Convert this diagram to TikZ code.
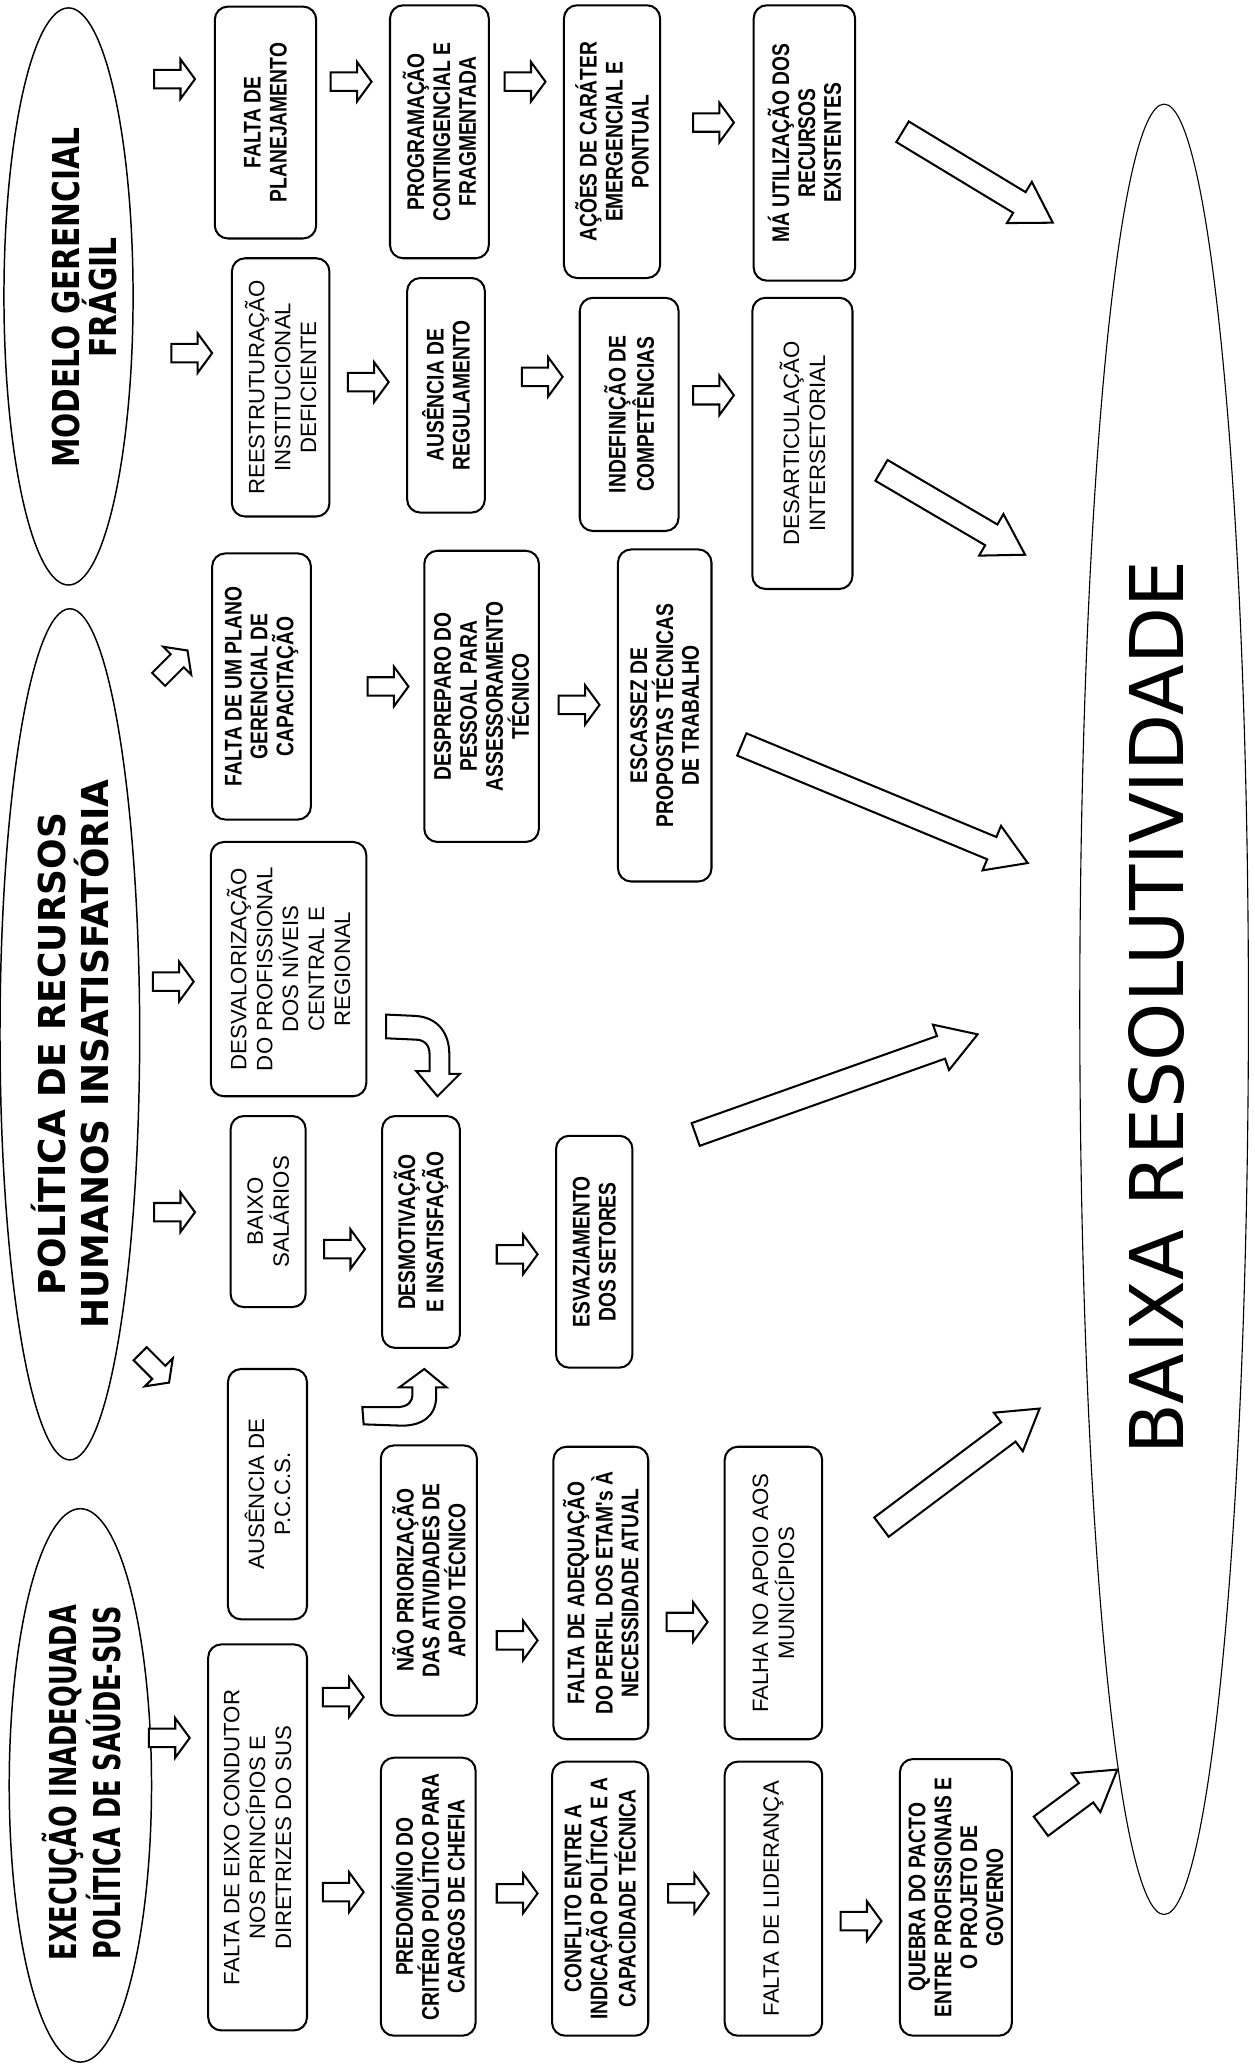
\documentclass[tikz,border=0pt]{standalone}
\usepackage{fontspec}
\setmainfont{Liberation Sans}
\newfontfamily\boxbold[FakeStretch=0.8]{Liberation Sans}
\newfontfamily\ttlmod[FakeStretch=0.8]{DejaVu Sans}
\newfontfamily\ttlpol[FakeStretch=0.97]{DejaVu Sans}
\newfontfamily\ttlexe[FakeStretch=0.69]{DejaVu Sans}
\newfontfamily\bigfont{DejaVu Sans}
\usetikzlibrary{calc}

\tikzset{
  box/.style={draw, line width=1.1pt, rounded corners=2.5mm, rotate=90, align=center, inner sep=1pt},
  boxr/.style={box, font=\fontsize{12}{14}\selectfont},
  boxb/.style={box, font=\boxbold\bfseries\fontsize{13}{14}\selectfont},
  ttl/.style={rotate=90, align=center},
  oval/.style={line width=0.8pt},
  arrline/.style={draw, fill=white, line width=1.1pt, line join=miter},
  pics/blk/.style={code={\path[arrline] (-15,-7) -- (5,-7) -- (5,-15) -- (16,0) -- (5,15) -- (5,7) -- (-15,7) -- cycle;}},
  fat/.style={arrline, to path={let \p1=(\tikztostart), \p2=(\tikztotarget),
    \n1={atan2(\y2-\y1,\x2-\x1)}, \n2={veclen(\x2-\x1,\y2-\y1)-21} in
    ($(\p1)+(\n1+90:6.5pt)$) -- ++(\n1:\n2) -- ++(\n1+90:6.5pt) -- (\p2)
    -- ($(\p1)+(\n1:\n2)+(\n1-90:13pt)$) -- ++(\n1+90:6.5pt)
    -- ($(\p1)+(\n1-90:6.5pt)$) -- cycle}}
}

\begin{document}
\begin{tikzpicture}[x=0.25mm, y=-0.25mm]
    \useasboundingbox (0,0) rectangle (952,1568);
    % elipses
    \draw[oval] (52,225) ellipse [x radius=49, y radius=219];
    \draw[oval] (53,785) ellipse [x radius=53, y radius=323];
    \draw[oval] (61,1355) ellipse [x radius=54, y radius=210];
    \draw[oval, line width=0.6pt] (883.5,766) ellipse [x radius=64, y radius=687];
    \node[ttl, font=\ttlmod\bfseries\fontsize{20}{16}\selectfont] (mod) at (64,226) {MODELO GERENCIAL\\FRÁGIL};
    \node[ttl, font=\ttlpol\bfseries\fontsize{20}{23}\selectfont] (pol) at (53,800) {POLÍTICA DE RECURSOS\\HUMANOS INSATISFATÓRIA};
    \node[ttl, font=\ttlexe\bfseries\fontsize{20}{20}\selectfont] (exe) at (62,1353) {EXECUÇÃO INADEQUADA\\POLÍTICA DE SAÚDE-SUS};
    \node[rotate=90, font=\bigfont\fontsize{40}{40}\selectfont] (res) at (878,765) {BAIXA RESOLUTIVIDADE};
    % coluna 1
    \node[boxb, minimum width=44mm, minimum height=19.25mm] (a1) at (201.5,93) {FALTA DE\\PLANEJAMENTO};
    \node[boxr, minimum width=49mm, minimum height=18.5mm] (a2) at (213,294) {REESTRUTURAÇÃO\\INSTITUCIONAL\\DEFICIENTE};
    \node[boxb, minimum width=50.5mm, minimum height=18.75mm] (a3) at (198.5,521) {FALTA DE UM PLANO\\GERENCIAL DE\\CAPACITAÇÃO};
    \node[boxr, minimum width=48.25mm, minimum height=29.5mm] (a4) at (219,735.5) {DESVALORIZAÇÃO\\DO PROFISSIONAL\\DOS NÍVEIS\\CENTRAL E\\REGIONAL};
    \node[boxr, minimum width=36.25mm, minimum height=14.25mm] (a5) at (203.5,919.5) {BAIXO\\SALÁRIOS};
    \node[boxr, minimum width=47.5mm, minimum height=15mm] (a6) at (203,1134) {AUSÊNCIA DE\\P.C.C.S.};
    \node[boxr, minimum width=73.25mm, minimum height=18.75mm] (a7) at (195.5,1394.5) {FALTA DE EIXO CONDUTOR\\NOS PRINCÍPIOS E\\DIRETRIZES DO SUS};
    % coluna 2
    \node[boxb, minimum width=48mm, minimum height=18.75mm] (b1) at (333.5,100) {PROGRAMAÇÃO\\CONTINGENCIAL E\\FRAGMENTADA};
    \node[boxb, minimum width=44.5mm, minimum height=14.75mm] (b2) at (338.5,300) {AUSÊNCIA DE\\REGULAMENTO};
    \node[boxb, minimum width=55.25mm, minimum height=21.75mm] (b3) at (365.5,528.5) {DESPREPARO DO\\PESSOAL PARA\\ASSESSORAMENTO\\TÉCNICO};
    \node[boxb, minimum width=44mm, minimum height=14.75mm] (b4) at (319.5,935) {DESMOTIVAÇÃO\\E INSATISFAÇÃO};
    \node[boxb, minimum width=51.25mm, minimum height=18.25mm] (b5) at (325.5,1199.5) {NÃO PRIORIZAÇÃO\\DAS ATIVIDADES DE\\APOIO TÉCNICO};
    \node[boxb, minimum width=52.75mm, minimum height=18mm] (b6) at (325,1439.5) {PREDOMÍNIO DO\\CRITÉRIO POLÍTICO PARA\\CARGOS DE CHEFIA};
    % coluna 3
    \node[boxb, minimum width=51.75mm, minimum height=18.25mm] (c1) at (464.5,107.5) {AÇÕES DE CARÁTER\\EMERGENCIAL E\\PONTUAL};
    \node[boxb, minimum width=44.25mm, minimum height=18.75mm] (c2) at (477.5,314.5) {INDEFINIÇÃO DE\\COMPETÊNCIAS};
    \node[boxb, minimum width=63mm, minimum height=17.75mm] (c3) at (504.5,543) {ESCASSEZ DE\\PROPOSTAS TÉCNICAS\\DE TRABALHO};
    \node[boxb, minimum width=44mm, minimum height=14.5mm] (c4) at (451,950) {ESVAZIAMENTO\\DOS SETORES};
    \node[boxb, minimum width=55.5mm, minimum height=18mm] (c5) at (456,1209) {FALTA DE ADEQUAÇÃO\\DO PERFIL DOS ETAM's À\\NECESSIDADE ATUAL};
    \node[boxb, minimum width=52mm, minimum height=18.25mm] (c6) at (455.5,1441) {CONFLITO ENTRE A\\INDICAÇÃO POLÍTICA E A\\CAPACIDADE TÉCNICA};
    % coluna 4 e 5
    \node[boxb, minimum width=52.25mm, minimum height=19.25mm] (d1) at (610.5,108.5) {MÁ UTILIZAÇÃO DOS\\RECURSOS\\EXISTENTES};
    \node[boxr, minimum width=55.25mm, minimum height=19mm] (d2) at (609,336.5) {DESARTICULAÇÃO\\INTERSETORIAL};
    \node[boxr, minimum width=55.5mm, minimum height=18.5mm] (d4) at (587,1209) {FALHA NO APOIO AOS\\MUNICÍPIOS};
    \node[boxr, minimum width=52mm, minimum height=18.5mm] (d3) at (587,1441) {FALTA DE LIDERANÇA};
    \node[boxb, minimum width=52.5mm, minimum height=21.25mm] (e1) at (725.5,1440) {QUEBRA DO PACTO\\ENTRE PROFISSIONAIS E\\O PROJETO DE\\GOVERNO};
    % setas pequenas
    \pic (ar1) at (132,60) {blk};
    \pic (ar2) at (145,268) {blk};
    \pic[rotate=45] (ar3) at (131,505) {blk};
    \pic (ar4) at (131,745) {blk};
    \pic (ar5) at (132,920) {blk};
    \pic[rotate=-45] (ar6) at (117,1038) {blk};
    \pic (ar7) at (128,1319) {blk};
    \pic (br1) at (266,62) {blk};
    \pic (br2) at (279,290) {blk};
    \pic (br3) at (294,521) {blk};
    \pic (br4) at (261,948) {blk};
    \pic (br5) at (260,1288) {blk};
    \pic (br6) at (260,1436) {blk};
    \pic (cr1) at (398,62) {blk};
    \pic (cr2) at (411,286) {blk};
    \pic (cr3) at (439,535) {blk};
    \pic (cr4) at (392,952) {blk};
    \pic (cr5) at (392,1245) {blk};
    \pic (cr6) at (392,1437) {blk};
    \pic (dr1) at (541,93) {blk};
    \pic (dr2) at (541,300) {blk};
    \pic (dr4) at (521,1231) {blk};
    \pic (dr3) at (522,1437) {blk};
    \pic (er1) at (653,1458) {blk};
    % setas curvas
    \path[arrline] (293,770) -- (315,771) .. controls (333,772) and (341,785) .. (341,800) -- (341,815) -- (349,815) -- (332,832) -- (316,813) -- (326,813) -- (326,800) .. controls (326,793) and (322,789) .. (315,789) -- (293,788) -- cycle;
    \path[arrline] (275,1068) -- (300,1068) .. controls (310,1068) and (313,1064) .. (313,1058) -- (313,1053) -- (303,1053) -- (322,1039) -- (339,1053) -- (331,1053) -- (331,1060) .. controls (331,1075) and (320,1082) .. (305,1082) -- (276,1081) -- cycle;
    % setas grandes
    \coordinate (s1) at (685,100);  \coordinate (t1) at (799,169);
    \coordinate (s2) at (669,357);  \coordinate (t2) at (778,421);
    \coordinate (s3) at (563,565);  \coordinate (t3) at (780,655);
    \coordinate (s4) at (528,861);  \coordinate (t4) at (742,785);
    \coordinate (s5) at (669,1159); \coordinate (t5) at (789,1069);
    \coordinate (s6) at (790,1386); \coordinate (t6) at (848,1343);
    \draw[fat] (s1) to (t1);
    \draw[fat] (s2) to (t2);
    \draw[fat] (s3) to (t3);
    \draw[fat] (s4) to (t4);
    \draw[fat] (s5) to (t5);
    \draw[fat] (s6) to (t6);
\end{tikzpicture}
\end{document}
